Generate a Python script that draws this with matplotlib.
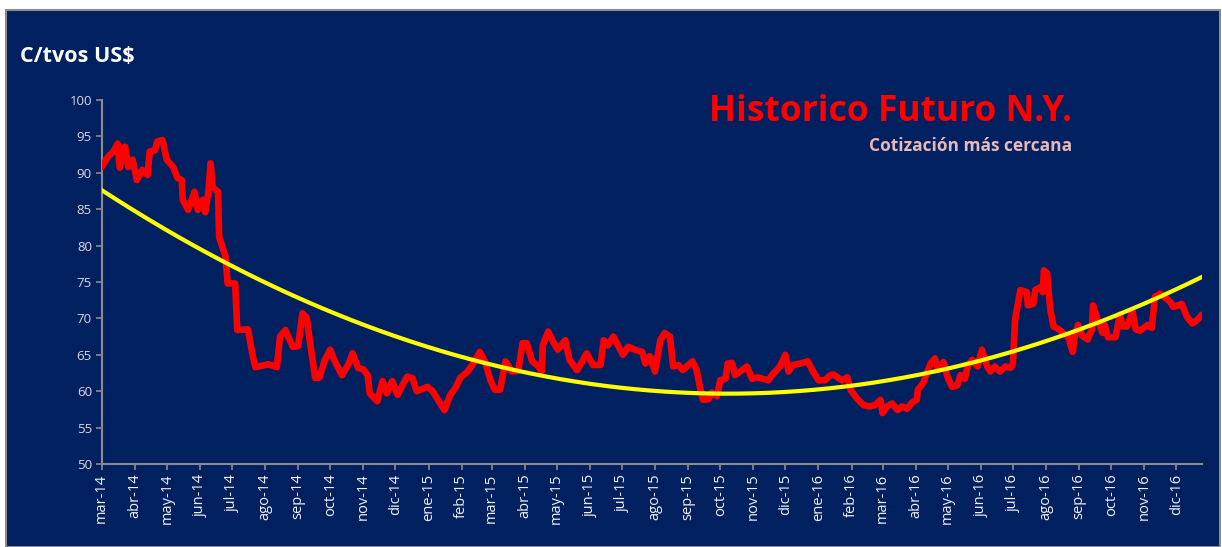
import numpy as np
import pandas as pd
import matplotlib
matplotlib.use("Agg")
import matplotlib.pyplot as plt
from matplotlib.patches import Rectangle

# ---------------- data ----------------
start_date = "2014-03-01"
day_offset = [0, 6, 11, 15, 17, 22, 25, 29, 33, 38, 43, 45, 50, 52, 57, 61, 67, 71, 75, 76,
              81, 87, 90, 95, 97, 100, 102, 104, 109, 110, 116, 118, 125, 127, 137, 141, 144,
              156, 164, 167, 172, 179, 184, 188, 192, 195, 200, 204, 209, 214, 218, 225, 231,
              235, 240, 245, 249, 251, 258, 263, 267, 272, 277, 286, 291, 295, 305, 310, 317,
              321, 326, 331, 336, 342, 348, 354, 359, 364, 368, 373, 378, 384, 390, 394, 398,
              403, 409, 412, 413, 418, 423, 427, 434, 438, 445, 450, 454, 460, 467, 470, 474,
              479, 484, 488, 493, 499, 506, 509, 513, 518, 523, 527, 532, 535, 540, 544, 553,
              557, 560, 563, 568, 571, 576, 579, 584, 586, 590, 593, 598, 604, 609, 614, 619,
              624, 628, 635, 640, 643, 647, 654, 661, 666, 671, 677, 682, 685, 689, 693, 698,
              701, 707, 713, 719, 724, 729, 731, 735, 740, 745, 749, 754, 759, 763, 764, 769,
              773, 776, 780, 783, 788, 792, 796, 801, 804, 808, 811, 815, 820, 824, 829, 832,
              836, 841, 846, 851, 853, 855, 860, 866, 867, 872, 874, 879, 881, 882, 885, 888,
              891, 896, 900, 905, 909, 911, 914, 918, 923, 927, 928, 932, 937, 939, 942, 949,
              953, 956, 960, 965, 968, 972, 979, 983, 986, 991, 996, 1000, 1003, 1008, 1011,
              1016, 1021, 1025, 1030]
price = [90.8, 92.2, 92.9, 94.0, 90.7, 93.6, 90.8, 91.8, 89.0, 90.4, 89.7, 92.9, 93.1, 94.3,
         94.5, 91.8, 90.8, 89.3, 89.0, 86.3, 84.9, 87.4, 84.9, 86.3, 84.6, 87.4, 91.3, 88.0,
         87.4, 81.2, 78.5, 74.8, 74.8, 68.4, 68.5, 65.2, 63.3, 63.7, 63.3, 67.5, 68.4, 66.1,
         66.2, 70.7, 70.1, 66.8, 61.8, 61.9, 64.3, 65.7, 64.2, 62.2, 63.7, 65.2, 63.2, 63.0,
         62.2, 59.7, 58.6, 61.4, 59.7, 61.4, 59.5, 62.0, 61.8, 60.0, 60.6, 60.0, 58.3, 57.4,
         59.4, 60.4, 61.9, 62.6, 63.8, 65.4, 64.0, 61.5, 60.2, 60.2, 64.1, 62.7, 62.8, 66.6,
         66.6, 64.1, 63.4, 62.7, 66.3, 68.2, 66.7, 65.7, 67.0, 64.3, 62.9, 64.1, 65.2, 63.6,
         63.6, 67.0, 66.3, 67.5, 66.1, 65.0, 66.1, 65.7, 65.4, 63.8, 64.8, 62.7, 67.0, 68.0,
         67.5, 63.4, 63.6, 62.9, 64.1, 62.9, 60.6, 58.8, 58.9, 59.8, 59.3, 61.5, 61.7, 63.8,
         63.9, 62.2, 62.7, 63.4, 61.7, 61.9, 61.7, 61.5, 62.3, 63.4, 65.0, 62.7, 63.6, 63.8,
         64.1, 62.7, 61.5, 61.5, 62.2, 62.3, 61.9, 61.5, 61.9, 60.2, 59.0, 58.1, 57.9, 58.1,
         58.8, 57.0, 57.9, 58.3, 57.4, 57.9, 57.6, 58.5, 58.8, 60.2, 61.1, 62.7, 63.8, 64.5,
         62.9, 64.0, 61.9, 60.6, 60.8, 62.2, 61.7, 63.6, 64.3, 63.4, 65.7, 63.4, 62.7, 63.4,
         62.7, 63.4, 63.2, 63.8, 69.8, 73.9, 73.6, 71.8, 72.0, 73.9, 74.3, 73.6, 76.6, 76.2,
         71.2, 68.9, 68.5, 68.0, 67.4, 65.4, 67.6, 69.1, 67.6, 67.1, 68.5, 71.8, 69.9, 68.0,
         69.1, 67.4, 67.4, 70.5, 68.9, 68.9, 71.0, 68.5, 68.3, 69.1, 68.7, 73.0, 73.4, 72.8,
         72.3, 71.6, 71.8, 72.0, 70.2, 69.3, 69.7, 70.5]
month_labels = ["mar-14", "abr-14", "may-14", "jun-14", "jul-14", "ago-14", "sep-14", "oct-14",
                "nov-14", "dic-14", "ene-15", "feb-15", "mar-15", "abr-15", "may-15", "jun-15",
                "jul-15", "ago-15", "sep-15", "oct-15", "nov-15", "dic-15", "ene-16", "feb-16",
                "mar-16", "abr-16", "may-16", "jun-16", "jul-16", "ago-16", "sep-16", "oct-16",
                "nov-16", "dic-16"]
y_ticks = [50, 55, 60, 65, 70, 75, 80, 85, 90, 95, 100]

title = "Historico Futuro N.Y."
subtitle = "Cotización más cercana"
y_unit = "C/tvos US$"

# ---------------- style ----------------
NAVY = "#002060"
W, H = 1222, 547
fig = plt.figure(figsize=(W / 100, H / 100), dpi=100, facecolor="white")

# navy chart box with grey border (behind everything)
fig.patches.append(Rectangle((6 / W, 0), (W - 8) / W, 1 - 10 / H, transform=fig.transFigure,
                             facecolor=NAVY, edgecolor="#8c8c8c", linewidth=1.5, zorder=-10))

left, right = 101.6 / W, 1202 / W
bottom, top = 1 - 464 / H, 1 - 100 / H
ax = fig.add_axes([left, bottom, right - left, top - bottom])
ax.set_zorder(5)
ax.set_facecolor("none")

dates = pd.Timestamp(start_date) + pd.to_timedelta(day_offset, unit="D")
ax.plot(dates, price, color="#FF0000", lw=4.8, solid_joinstyle="round",
        solid_capstyle="round", zorder=3)

# polynomial (order 2) trend line, computed like Excel from the daily series
daily = np.arange(day_offset[0], day_offset[-1] + 1)
daily_vals = np.interp(daily, day_offset, price)
coef = np.polyfit(daily, daily_vals, 2)
trend = np.polyval(coef, daily)
trend_dates = pd.Timestamp(start_date) + pd.to_timedelta(daily, unit="D")
ax.plot(trend_dates, trend, color="#FFFF00", lw=3.0, zorder=4)

ax.set_ylim(50, 100)
ax.set_yticks(y_ticks)
ax.set_yticklabels([str(v) for v in y_ticks])
ax.set_xlim(dates[0], dates[-1])
month_starts = pd.date_range(start_date, periods=len(month_labels), freq="MS")
ax.set_xticks(month_starts)
ax.set_xticklabels(month_labels, rotation=90)

for s in ["top", "right"]:
    ax.spines[s].set_visible(False)
for s in ["left", "bottom"]:
    ax.spines[s].set_color("#8c8c8c")
    ax.spines[s].set_linewidth(1.5)
ax.tick_params(axis="both", colors="#8c8c8c", length=4, width=1.2, direction="out")
ax.tick_params(axis="y", labelcolor="#D9D9D9", labelsize=9.5, pad=3)
ax.tick_params(axis="x", labelcolor="#F2F2F2", labelsize=10.5, pad=3)
for lab in ax.get_xticklabels() + ax.get_yticklabels():
    lab.set_family("Open Sans")

fig.text(20 / W, 1 - 57 / H, y_unit, color="white", fontsize=15.5, fontweight="bold",
         family="Open Sans", ha="left", va="center")
fig.text(1072 / W, 1 - 112 / H, title, color="#FF0000", fontsize=25.5, fontweight="bold",
         family="Open Sans", ha="right", va="center")
fig.text(1072 / W, 1 - 146 / H, subtitle, color="#E6B9B8", fontsize=12.5, fontweight="bold",
         family="Open Sans", ha="right", va="center")

fig.savefig("out.png", dpi=100, facecolor="white")
